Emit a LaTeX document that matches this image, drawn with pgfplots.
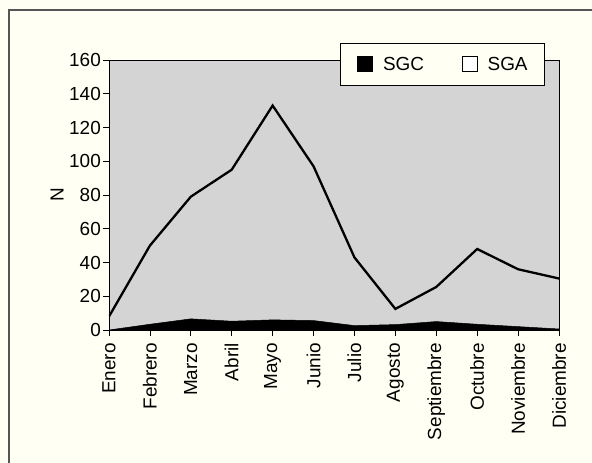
\documentclass[border=0pt]{standalone}
\usepackage{pgfplots}
\pgfplotsset{compat=1.18}
\usepackage{fontspec}
\setmainfont{Liberation Sans}
\definecolor{crema}{HTML}{FFFFF4}
\definecolor{fondo}{HTML}{D4D4D4}
\definecolor{marco}{HTML}{555555}

\begin{document}
\fontsize{19}{22}\selectfont
\begin{tikzpicture}[x=1bp,y=1bp]
    % page = 592x463, origin at bottom-left of the plot area
    \useasboundingbox (-109,-133) rectangle (483,330);
    \fill[crema] (-109,-133) rectangle (483,330);
    \draw[marco, line width=1.5bp] (-100,-134) -- (-100,320) -- (484,320);

    \begin{axis}[
        at={(0,0)}, anchor=origin,
        scale only axis,
        width=450bp, height=270bp,
        xmin=0, xmax=11,
        ymin=0, ymax=160,
        xtick={0,...,11},
        xticklabels={Enero,Febrero,Marzo,Abril,Mayo,Junio,Julio,Agosto,Septiembre,Octubre,Noviembre,Diciembre},
        ytick={0,20,...,160},
        xtick pos=left, ytick pos=left,
        x tick label style={rotate=90, anchor=east, inner sep=0bp, xshift=-7bp},
        y tick label style={inner sep=2bp},
        tick align=outside,
        major tick length=6bp,
        tick style={black, line width=0.8bp},
        axis line style={black, line width=0.8bp},
        axis background/.style={fill=fondo},
        ylabel={N},
        ylabel style={at={(rel axis cs:0,0.5)}, anchor=center, rotate=0, yshift=52bp},
        ticklabel style={font=\fontsize{19}{22}\selectfont},
        /pgf/number format/assume math mode=true,
        legend columns=2,
        legend style={
            at={(231bp,287bp)}, anchor=north west,
            fill=crema, draw=black, line width=0.8bp,
            inner xsep=17bp, inner ysep=13bp,
            nodes={inner sep=0pt, text depth=0pt},
            /tikz/column 1/.style={column sep=10bp},
            /tikz/column 2/.style={column sep=38bp},
            /tikz/column 3/.style={column sep=10bp},
            font=\fontsize{19}{22}\selectfont,
        },
    ]

    % SGC: area negra
    \addplot[fill=black, draw=black, line width=0.5bp, forget plot] coordinates {
        (0,0) (1,3.4) (2,6.6) (3,5.2) (4,6) (5,5.6)
        (6,2.6) (7,3.2) (8,5) (9,3.4) (10,2) (11,0.6)
    } \closedcycle;

    % SGA: linea
    \addplot[black, line width=2.3bp, forget plot] coordinates {
        (0,8) (1,50) (2,79) (3,95) (4,133) (5,97)
        (6,43) (7,12.5) (8,25.5) (9,48) (10,36) (11,30.5)
    };

    \addlegendimage{legend image code/.code={\draw[fill=black, draw=black, line width=0.6bp] (0bp,-7.5bp) rectangle (15bp,7.5bp);}}
    \addlegendentry{SGC}
    \addlegendimage{legend image code/.code={\draw[fill=white, draw=black, line width=0.6bp] (0bp,-7.5bp) rectangle (15bp,7.5bp);}}
    \addlegendentry{SGA}

    \end{axis}
\end{tikzpicture}
\end{document}
